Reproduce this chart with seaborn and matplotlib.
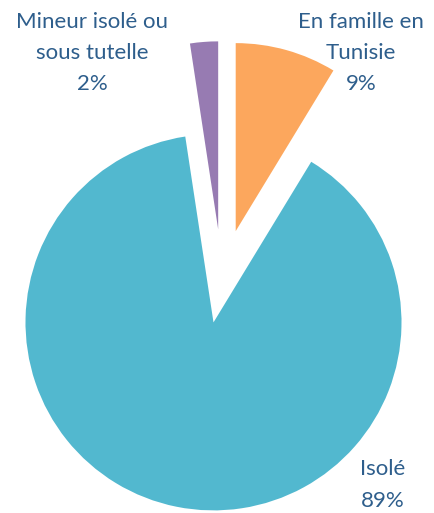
import matplotlib
matplotlib.use("Agg")
import matplotlib.pyplot as plt
import seaborn as sns

# Data (shares, labels show rounded values)
categories = ["En famille en\nTunisie", "Isolé", "Mineur isolé ou\nsous tutelle"]
shares = [8.7, 88.9, 2.4]
labels_pct = ["9%", "89%", "2%"]
colors = ["#FCA75D", "#52B8CF", "#977BB2"]

sns.set_theme(style="white")
plt.rcParams["font.family"] = ["Lato", "DejaVu Sans"]

fig = plt.figure(figsize=(4.35, 5.13), dpi=100)
ax = fig.add_axes([0, 0, 1, 1])

ax.pie(shares, colors=colors, startangle=90, counterclock=False,
       explode=[0.27, 0.23, 0.27], radius=1.0,
       wedgeprops=dict(linewidth=0))

# map pixels: 188 px per unit, pie center at (222, 280) px
ax.set_xlim(-222 / 188, (435 - 222) / 188)
ax.set_ylim(-(513 - 280) / 188, 280 / 188)
ax.set_aspect("auto")
ax.axis("off")

label_pos = [(361, 53), (383, 485), (92, 53)]
for cat, pct, (px, py) in zip(categories, labels_pct, label_pos):
    ax.text(px / 435, 1 - py / 513, f"{cat}\n{pct}", transform=ax.transAxes,
            ha="center", va="center", fontsize=16, color="#2E5E8C",
            linespacing=1.7)

fig.savefig("out.png", dpi=100)
